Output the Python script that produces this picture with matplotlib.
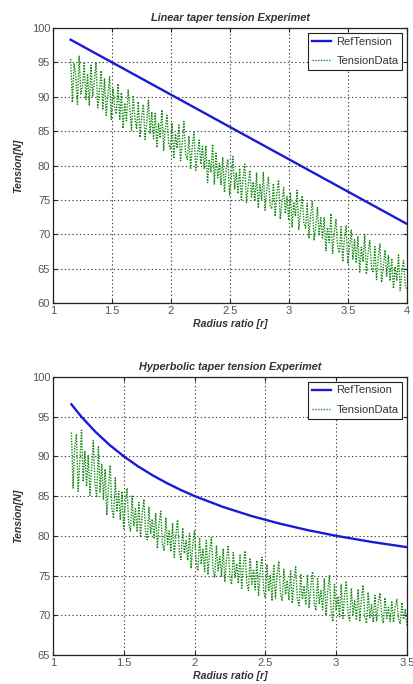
import numpy as np
import matplotlib
matplotlib.use("Agg")
import matplotlib.pyplot as plt

plt.rcParams['font.family'] = ['Liberation Sans', 'DejaVu Sans']

# ---------------- data: linear taper ----------------
lin_ref_r = [1.15, 4.0]
lin_ref_T = [98.3, 71.5]

lin_data_T = [
    95.5, 89.2, 94.8, 93.1, 88.9, 95.9, 90.4, 91.6, 94.9, 89.6,
    93.2, 88.7, 94.6, 90.0, 92.3, 95.0, 88.4, 90.9, 93.8, 88.1,
    92.6, 87.3, 90.1, 92.9, 86.7, 91.2, 88.4, 87.5, 91.9, 86.6,
    90.6, 85.4, 89.1, 86.5, 91.0, 88.2, 85.1, 90.2, 86.9, 85.3,
    89.3, 84.1, 87.0, 88.9, 83.8, 86.2, 89.5, 84.6, 87.8, 83.9,
    87.6, 82.6, 86.1, 84.0, 88.1, 82.2, 85.3, 87.3, 83.1, 82.4,
    86.2, 81.0, 84.6, 82.5, 85.9, 80.7, 83.2, 86.4, 81.6, 80.9,
    84.3, 79.6, 83.0, 84.9, 79.3, 81.5, 83.7, 80.2, 82.8, 79.5,
    82.9, 77.5, 80.9, 79.0, 83.1, 77.3, 81.8, 78.2, 80.3, 77.2,
    81.2, 76.1, 79.6, 80.9, 75.7, 78.0, 81.3, 76.6, 79.0, 75.9,
    79.6, 75.0, 78.1, 80.2, 74.6, 76.9, 79.3, 75.4, 77.6, 74.8,
    78.9, 73.8, 77.2, 75.0, 79.0, 73.5, 76.5, 78.3, 74.2, 73.7,
    77.4, 72.6, 76.0, 77.9, 72.2, 74.6, 76.8, 73.0, 75.5, 72.0,
    76.1, 71.0, 74.7, 72.6, 76.4, 70.7, 73.3, 75.6, 71.6, 70.9,
    74.5, 69.4, 72.9, 74.8, 69.1, 71.2, 73.9, 69.8, 72.4, 69.3,
    72.4, 67.6, 71.0, 68.8, 73.0, 67.2, 70.3, 72.2, 68.1, 67.3,
    71.1, 66.0, 69.4, 71.3, 65.7, 68.0, 70.6, 66.4, 69.2, 65.8,
    69.7, 64.5, 68.1, 66.0, 70.0, 64.2, 67.3, 69.1, 65.2, 64.4,
    68.2, 63.4, 66.6, 68.6, 63.0, 65.2, 67.7, 63.9, 66.9, 63.2,
    66.5, 62.1, 65.3, 63.2, 67.0, 61.8, 64.6, 66.2, 62.5, 62.0,
]
lin_r_start, lin_r_end = 1.15, 4.0

# ---------------- data: hyperbolic taper ----------------
hyp_ref_r = [1.13, 1.2, 1.3, 1.4, 1.5, 1.6, 1.7, 1.8, 1.9, 2.0,
             2.2, 2.4, 2.6, 2.8, 3.0, 3.25, 3.5]
hyp_ref_T = [96.55, 95.0, 93.08, 91.43, 90.0, 88.75, 87.65, 86.67, 85.79, 85.0,
             83.64, 82.5, 81.54, 80.71, 80.0, 79.23, 78.57]

hyp_data_T = [
    93.0, 86.0, 91.3, 92.8, 85.6, 89.4, 93.3, 86.8, 90.7, 86.2,
    90.1, 85.1, 88.6, 92.0, 86.4, 84.8, 91.2, 85.5, 89.0, 84.6,
    88.4, 82.6, 86.1, 88.9, 83.4, 82.2, 87.3, 83.0, 85.6, 82.0,
    85.6, 80.9, 84.1, 86.0, 81.5, 80.6, 85.0, 81.2, 83.4, 80.5,
    84.2, 79.8, 82.9, 84.6, 80.4, 79.5, 83.6, 80.3, 82.1, 79.6,
    82.8, 78.4, 81.5, 83.1, 79.0, 78.1, 82.3, 78.9, 80.6, 78.0,
    81.6, 77.3, 80.2, 82.0, 77.9, 77.0, 81.0, 77.8, 79.4, 76.9,
    80.3, 75.9, 79.0, 80.6, 76.6, 75.6, 79.8, 76.4, 78.3, 75.5,
    79.4, 75.1, 78.1, 79.8, 75.7, 74.8, 78.8, 75.6, 77.4, 74.9,
    78.4, 74.2, 77.1, 78.8, 74.8, 73.9, 77.9, 74.7, 76.5, 74.0,
    77.6, 73.4, 76.3, 78.1, 74.1, 73.1, 77.2, 73.9, 75.8, 73.2,
    76.9, 72.5, 75.6, 77.3, 73.1, 72.2, 76.4, 73.0, 75.0, 71.8,
    76.4, 72.1, 75.0, 76.8, 72.7, 71.8, 75.8, 72.6, 74.4, 71.9,
    75.7, 71.5, 74.4, 76.1, 72.0, 71.2, 75.2, 72.0, 73.7, 71.3,
    75.1, 70.9, 73.8, 75.5, 71.5, 70.6, 74.6, 71.4, 73.1, 70.7,
    74.6, 70.0, 73.1, 75.0, 70.8, 69.2, 73.9, 70.6, 72.4, 69.8,
    73.9, 69.6, 72.6, 74.3, 70.2, 69.3, 73.4, 70.1, 71.9, 69.4,
    73.3, 69.2, 72.0, 73.8, 69.8, 69.0, 72.9, 69.7, 71.4, 69.1,
    72.5, 69.3, 71.5, 72.8, 69.9, 69.0, 72.2, 69.6, 71.0, 69.2,
    71.8, 69.1, 71.0, 72.0, 69.6, 68.9, 71.6, 69.5, 70.8, 68.6,
]
hyp_r_start, hyp_r_end = 1.13, 3.5

titles = ["Linear taper tension Experimet", "Hyperbolic taper tension Experimet"]
xlabel = "Radius ratio [r]"
ylabel = "Tension[N]"
labels = ["RefTension", "TensionData"]

lin_xticks = [1, 1.5, 2, 2.5, 3, 3.5, 4]
lin_yticks = [60, 65, 70, 75, 80, 85, 90, 95, 100]
hyp_xticks = [1, 1.5, 2, 2.5, 3, 3.5]
hyp_yticks = [65, 70, 75, 80, 85, 90, 95, 100]

# ---------------- figure ----------------
fig = plt.figure(figsize=(4.14, 6.84), dpi=100)
ax1 = fig.add_axes([0.128, 0.557, 0.855, 0.402])
ax2 = fig.add_axes([0.128, 0.0424, 0.855, 0.4066])

blue = "#1a1ad6"
green = "#138a13"
tc = "#333333"

def style(ax, xt, yt, xlim, ylim, title):
    ax.set_xlim(*xlim)
    ax.set_ylim(*ylim)
    ax.set_xticks(xt)
    ax.set_yticks(yt)
    ax.set_xticklabels([("%g" % v) for v in xt])
    ax.set_yticklabels([("%g" % v) for v in yt])
    ax.grid(True, linestyle=(0, (1.2, 2.2)), color="#444444", linewidth=0.8)
    ax.tick_params(direction="in", length=3, labelsize=8, colors="#222222",
                   labelcolor="#555555", pad=2, top=True, right=True)
    for s in ax.spines.values():
        s.set_color("#222222")
        s.set_linewidth(0.9)
    ax.set_title(title, fontsize=7.8, fontweight="bold", fontstyle="italic",
                 color=tc, pad=5)
    ax.set_xlabel(xlabel, fontsize=7.6, fontweight="bold", fontstyle="italic",
                  color=tc, labelpad=2)
    ax.set_ylabel(ylabel, fontsize=7.6, fontweight="bold", fontstyle="italic",
                  color=tc, labelpad=6)

# top
lin_r = np.linspace(lin_r_start, lin_r_end, len(lin_data_T))
ax1.plot(lin_ref_r, lin_ref_T, color=blue, lw=1.7, label=labels[0], zorder=3)
ax1.plot(lin_r, lin_data_T, color=green, lw=1.0, linestyle=(0, (1, 1)),
         label=labels[1], zorder=2)
style(ax1, lin_xticks, lin_yticks, (1, 4), (60, 100), titles[0])

# bottom
hyp_r = np.linspace(hyp_r_start, hyp_r_end, len(hyp_data_T))
ax2.plot(hyp_ref_r, hyp_ref_T, color=blue, lw=1.7, label=labels[0], zorder=3)
ax2.plot(hyp_r, hyp_data_T, color=green, lw=1.0, linestyle=(0, (1, 1)),
         label=labels[1], zorder=2)
style(ax2, hyp_xticks, hyp_yticks, (1, 3.5), (65, 100), titles[1])

for ax in (ax1, ax2):
    leg = ax.legend(loc="upper right", fontsize=8, fancybox=False,
                    framealpha=1, edgecolor="#222222", borderpad=0.35,
                    handlelength=1.7, handletextpad=0.5, labelspacing=0.85,
                    borderaxespad=0.42)
    leg.get_frame().set_linewidth(0.8)
    for t in leg.get_texts():
        t.set_color("#333333")

fig.savefig("out.png", dpi=100, facecolor="white")
